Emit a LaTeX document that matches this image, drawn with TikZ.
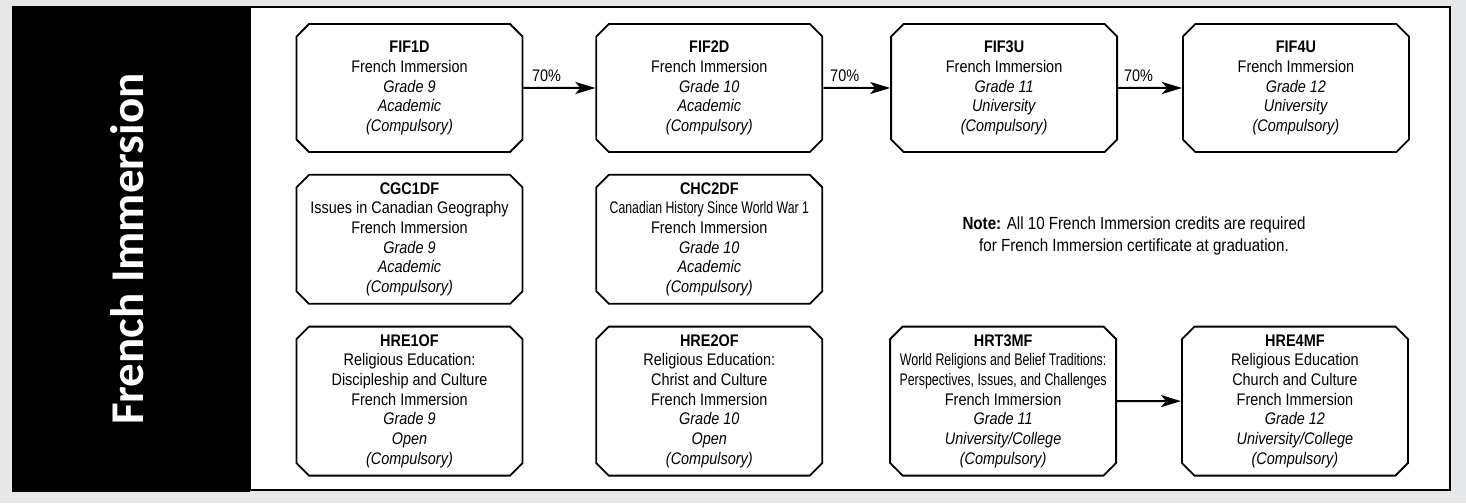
\documentclass[tikz,border=0pt]{standalone}
\usepackage{fontspec}
\usepackage{graphicx}
\setmainfont{Liberation Sans}[FakeStretch=0.86]
\newfontfamily\titlefont{Carlito}
\usetikzlibrary{arrows.meta,positioning,shapes.misc}
\definecolor{pagegray}{HTML}{E6E7E8}
\newcommand{\squeeze}[2]{\scalebox{#1}[1]{#2}}

\begin{document}
\begin{tikzpicture}[
    x=1pt, y=1pt,
    >={Stealth[length=20pt,width=12pt,inset=5pt]},
    % course boxes
    course/.style={
        chamfered rectangle,
        chamfered rectangle xsep=9pt,
        draw,
        line width=1.8pt,
        fill=white,
        align=center,
        minimum width=226pt,
        inner sep=0pt,
        font=\fontsize{16.8}{19.7}\selectfont
    },
    link/.style={->, line width=2pt},
    pct/.style={above, pos=0.32, inner sep=5pt, font=\fontsize{16.8}{19.7}\selectfont}
]

    % --- background, side panel, frame ---
    \fill[pagegray] (0,0) rectangle (1466,-503);
    \draw[line width=2.5pt, fill=white] (250,-7) rectangle (1450,-490);
    \fill[black] (12,-6) rectangle (250,-492);
    \node[rotate=90, text=white, font=\titlefont\bfseries\fontsize{47}{52}\selectfont] (title) at (127,-249) {French Immersion};

    % --- row 1: French ---
    \node[course, minimum height=128pt] (fif1d) at (409.5,-88) {
        \textbf{FIF1D}\\ French Immersion\\ \textit{Grade 9}\\ \textit{Academic}\\ \textit{(Compulsory)}
    };
    \node[course, minimum height=128pt, right=72pt of fif1d] (fif2d) {
        \textbf{FIF2D}\\ French Immersion\\ \textit{Grade 10}\\ \textit{Academic}\\ \textit{(Compulsory)}
    };
    \node[course, minimum height=128pt, right=67pt of fif2d] (fif3u) {
        \textbf{FIF3U}\\ French Immersion\\ \textit{Grade 11}\\ \textit{University}\\ \textit{(Compulsory)}
    };
    \node[course, minimum height=128pt, right=64pt of fif3u] (fif4u) {
        \textbf{FIF4U}\\ French Immersion\\ \textit{Grade 12}\\ \textit{University}\\ \textit{(Compulsory)}
    };

    % --- row 2: geography, history ---
    \node[course, minimum height=129pt, below=21pt of fif1d] (cgc1df) {
        \textbf{CGC1DF}\\ Issues in Canadian Geography\\ French Immersion\\ \textit{Grade 9}\\ \textit{Academic}\\ \textit{(Compulsory)}
    };
    \node[course, minimum height=129pt, below=21pt of fif2d] (chc2df) {
        \textbf{CHC2DF}\\ \squeeze{0.85}{Canadian History Since World War 1}\\ French Immersion\\ \textit{Grade 10}\\ \textit{Academic}\\ \textit{(Compulsory)}
    };
    \node[align=center, font=\fontsize{17.6}{22}\selectfont] (note) at (1134,-236) {
        \textbf{Note:} All 10 French Immersion credits are required\\ for French Immersion certificate at graduation.
    };

    % --- row 3: religion ---
    \node[course, minimum height=149pt, below=21pt of cgc1df] (hre1of) {
        \textbf{HRE1OF}\\ Religious Education:\\ Discipleship and Culture\\ French Immersion\\ \textit{Grade 9}\\ \textit{Open}\\ \textit{(Compulsory)}
    };
    \node[course, minimum height=149pt, below=21pt of chc2df] (hre2of) {
        \textbf{HRE2OF}\\ Religious Education:\\ Christ and Culture\\ French Immersion\\ \textit{Grade 10}\\ \textit{Open}\\ \textit{(Compulsory)}
    };
    \node[course, minimum height=149pt, right=66pt of hre2of] (hrt3mf) {
        \textbf{HRT3MF}\\ \squeeze{0.86}{World Religions and Belief Traditions:}\\ \squeeze{0.86}{Perspectives, Issues, and Challenges}\\ French Immersion\\ \textit{Grade 11}\\ \textit{University/College}\\ \textit{(Compulsory)}
    };
    \node[course, minimum height=149pt, right=64pt of hrt3mf] (hre4mf) {
        \textbf{HRE4MF}\\ Religious Education\\ Church and Culture\\ French Immersion\\ \textit{Grade 12}\\ \textit{University/College}\\ \textit{(Compulsory)}
    };

    % --- arrows ---
    \draw[link] (fif1d) -- node[pct] {70\%} (fif2d);
    \draw[link] (fif2d) -- node[pct] {70\%} (fif3u);
    \draw[link] (fif3u) -- node[pct] {70\%} (fif4u);
    \draw[link] (hrt3mf) -- (hre4mf);

\end{tikzpicture}
\end{document}
